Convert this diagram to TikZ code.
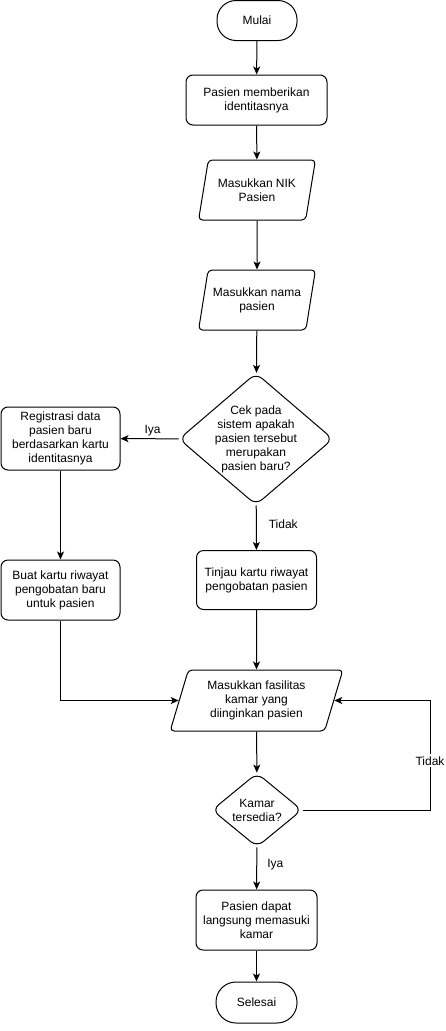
\documentclass[tikz,border=0pt]{standalone}
\usepackage{fontspec}
\setmainfont{Liberation Sans}
\usetikzlibrary{shapes.geometric,arrows.meta}
\begin{document}
\begin{tikzpicture}[x=1pt,y=-1pt,
  every node/.style={font=\fontsize{12}{14}\selectfont, align=center},
  box/.style={draw, line width=1pt},
  term/.style={box, rectangle, rounded corners=19pt, minimum width=80pt, minimum height=40pt},
  proc/.style={box, rectangle, rounded corners=7pt, minimum width=120pt, minimum height=60pt, inner sep=1pt},
  io/.style={box, trapezium, trapezium left angle=72, trapezium right angle=108, trapezium stretches=true, rounded corners=4pt, inner sep=1pt},
  dec/.style={box, diamond, rounded corners=8pt, inner sep=0pt},
  arr/.style={draw, line width=1pt, -{Stealth[length=8pt,width=7pt,inset=2pt]}},
  lbl/.style={font=\fontsize{12}{14}\selectfont, inner sep=2pt}
]
\useasboundingbox (0,0) rectangle (445,1031);

\node[term] (mulai) at (257,20.5) {Mulai};
\node[proc, minimum width=141pt, minimum height=50pt] (p1) at (256.5,100) {Pasien memberikan\\identitasnya};
\node[io, minimum width=117pt, minimum height=60pt] (nik) at (257,190) {Masukkan NIK\\Pasien};
\node[io, minimum width=117pt, minimum height=60pt] (nama) at (257,300) {Masukkan nama\\pasien};
\node[dec, minimum width=154pt, minimum height=132pt,
  label={[lbl, align=center]center:Cek pada\\sistem apakah\\pasien tersebut\\merupakan\\pasien baru?}] (cek) at (256,439) {};
\node[proc, minimum width=119pt, minimum height=63pt] (reg) at (60.5,438.5) {Registrasi data\\pasien baru\\berdasarkan kartu\\identitasnya};
\node[proc, minimum width=119pt, minimum height=60pt] (buat) at (60.5,590) {Buat kartu riwayat\\pengobatan baru\\untuk pasien};
\node[proc, minimum width=120pt, minimum height=59pt] (tinjau) at (256.5,580) {Tinjau kartu riwayat\\pengobatan pasien};
\node[io, minimum width=173pt, minimum height=61pt] (fas) at (256.5,700.5) {Masukkan fasilitas\\kamar yang\\diinginkan pasien};
\node[dec, minimum width=90pt, minimum height=74pt,
  label={[lbl, align=center]center:Kamar\\tersedia?}] (kamar) at (257,810) {};
\node[proc, minimum width=121pt, minimum height=60pt] (dapat) at (256.5,920) {Pasien dapat\\langsung memasuki\\kamar};
\node[term, minimum width=81pt, minimum height=41pt, rounded corners=20pt] (selesai) at (256.5,1002.5) {Selesai};

\coordinate (tc) at (430,0);

\draw[arr] (mulai) -- (p1);
\draw[arr] (p1) -- (nik);
\draw[arr] (nik) -- (nama);
\draw[arr] (nama) -- (cek);
\draw[arr] (cek) -- node[lbl, above, pos=0.45] {Iya} (reg);
\draw[arr] (reg) -- (buat);
\draw[arr] (cek) -- node[lbl, right, pos=0.42, xshift=10pt] {Tidak} (tinjau);
\draw[arr] (buat.south) |- (fas.west);
\draw[arr] (tinjau) -- (fas);
\draw[arr] (fas) -- (kamar);
\draw[arr] (kamar.east) -- (kamar.east -| tc) -- node[lbl, fill=white, pos=0.45] {Tidak} (fas.east -| tc) -- (fas.east);
\draw[arr] (kamar) -- node[lbl, right, pos=0.4, xshift=8pt] {Iya} (dapat);
\draw[arr] (dapat) -- (selesai);
\end{tikzpicture}
\end{document}
